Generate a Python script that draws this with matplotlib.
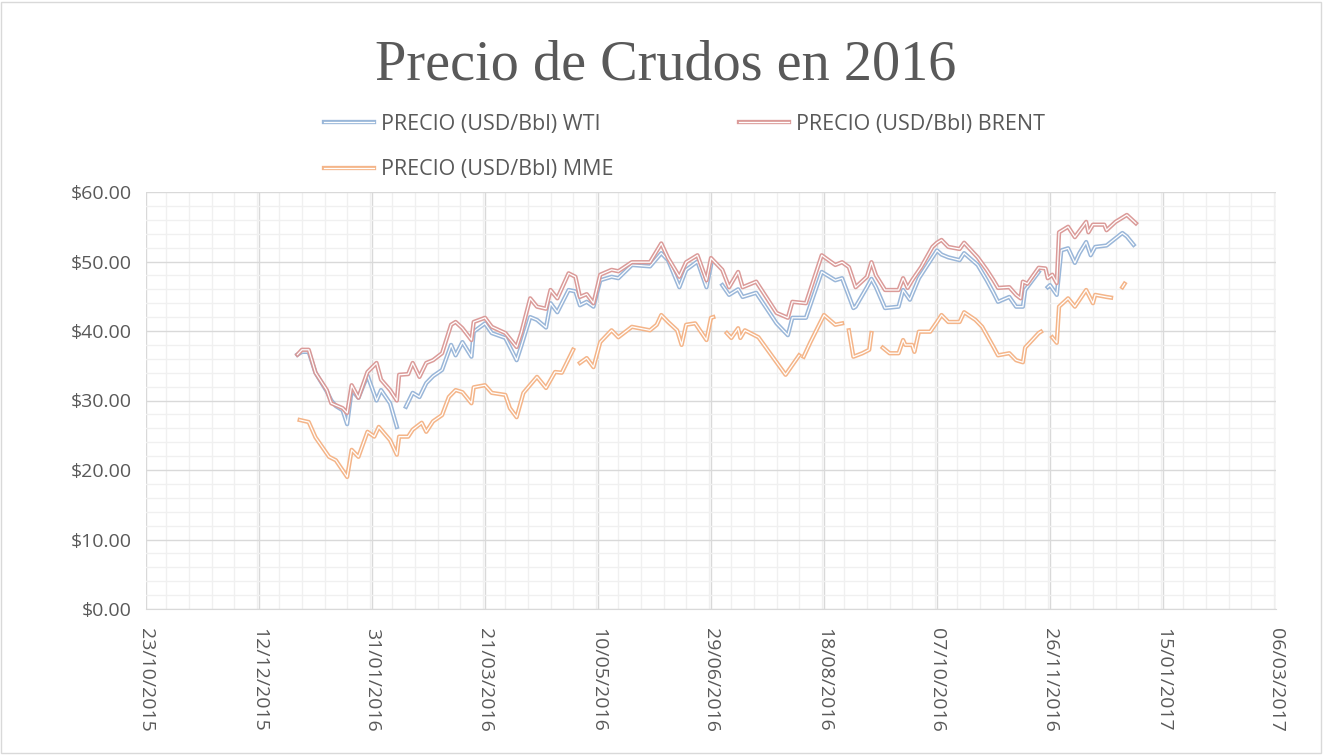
import numpy as np
import pandas as pd
import matplotlib
matplotlib.use("Agg")
import matplotlib.pyplot as plt
import matplotlib.dates as mdates
from matplotlib.ticker import FixedLocator, MultipleLocator, FuncFormatter
from matplotlib.lines import Line2D
from matplotlib.patches import Rectangle

nan = np.nan

# precios (USD/Bbl)
wti_dates = [
    "2015-12-29", "2015-12-31", "2016-01-03", "2016-01-06", "2016-01-11", "2016-01-13",
    "2016-01-15", "2016-01-18", "2016-01-20", "2016-01-22", "2016-01-25", "2016-01-29",
    "2016-02-02", "2016-02-04", "2016-02-08", "2016-02-11", "2016-02-13", "2016-02-15",
    "2016-02-18", "2016-02-21", "2016-02-24", "2016-02-27", "2016-03-02", "2016-03-06",
    "2016-03-08", "2016-03-11", "2016-03-15", "2016-03-16", "2016-03-21", "2016-03-24",
    "2016-03-30", "2016-04-04", "2016-04-06", "2016-04-10", "2016-04-13", "2016-04-17",
    "2016-04-19", "2016-04-22", "2016-04-27", "2016-04-30", "2016-05-02", "2016-05-05",
    "2016-05-08", "2016-05-11", "2016-05-16", "2016-05-19", "2016-05-25", "2016-06-02",
    "2016-06-07", "2016-06-10", "2016-06-15", "2016-06-18", "2016-06-23", "2016-06-27",
    "2016-06-29", "2016-07-02", "2016-07-04", "2016-07-07", "2016-07-11", "2016-07-13",
    "2016-07-19", "2016-07-28", "2016-08-02", "2016-08-04", "2016-08-10", "2016-08-17",
    "2016-08-23", "2016-08-26", "2016-08-31", "2016-09-01", "2016-09-06", "2016-09-08",
    "2016-09-10", "2016-09-14", "2016-09-20", "2016-09-22", "2016-09-25", "2016-09-29",
    "2016-10-05", "2016-10-07", "2016-10-09", "2016-10-12", "2016-10-17", "2016-10-19",
    "2016-10-25", "2016-10-29", "2016-11-01", "2016-11-03", "2016-11-08", "2016-11-11",
    "2016-11-14", "2016-11-15", "2016-11-21", "2016-11-23", "2016-11-25", "2016-11-26",
    "2016-11-29", "2016-12-01", "2016-12-04", "2016-12-07", "2016-12-09", "2016-12-12",
    "2016-12-14", "2016-12-16", "2016-12-21", "2016-12-28", "2016-12-30", "2017-01-02",
]
wti_vals = [
    36.6, 37.0, 37.0, 34.0, 31.3, 30.0,
    29.2, 28.6, 26.6, 31.5, 30.4, 33.6,
    30.0, 31.5, 29.6, 26.2, nan, 29.1,
    31.1, 30.5, 32.5, 33.5, 34.4, 38.0,
    36.5, 38.4, 36.3, 39.9, 41.1, 39.7,
    39.0, 35.8, 37.8, 42.0, 41.6, 40.5,
    44.0, 42.7, 45.9, 45.7, 43.7, 44.2,
    43.5, 47.3, 47.8, 47.6, 49.5, 49.3,
    51.2, 50.2, 46.3, 48.8, 50.0, 46.3,
    49.5, nan, 46.6, 45.2, 46.0, 44.9,
    45.5, 41.1, 39.4, 41.9, 41.9, 48.5,
    47.3, 47.6, 43.3, 43.5, 46.3, 47.5,
    46.3, 43.3, 43.5, 45.9, 44.5, 47.6,
    50.6, 51.6, 51.0, 50.6, 50.2, 51.2,
    49.5, 47.3, 45.5, 44.2, 44.9, 43.5,
    43.5, 45.9, 48.5, nan, 46.3, 46.6,
    45.2, 51.6, 51.9, 49.8, 51.2, 52.8,
    50.9, 52.1, 52.3, 54.1, 53.6, 52.4,
]

brent_dates = [
    "2015-12-29", "2015-12-31", "2016-01-03", "2016-01-06", "2016-01-11", "2016-01-13",
    "2016-01-18", "2016-01-20", "2016-01-22", "2016-01-25", "2016-01-29", "2016-02-02",
    "2016-02-04", "2016-02-08", "2016-02-11", "2016-02-12", "2016-02-16", "2016-02-18",
    "2016-02-21", "2016-02-24", "2016-02-27", "2016-03-02", "2016-03-06", "2016-03-08",
    "2016-03-11", "2016-03-15", "2016-03-16", "2016-03-21", "2016-03-24", "2016-03-30",
    "2016-04-04", "2016-04-06", "2016-04-10", "2016-04-13", "2016-04-17", "2016-04-19",
    "2016-04-22", "2016-04-27", "2016-04-30", "2016-05-02", "2016-05-05", "2016-05-08",
    "2016-05-11", "2016-05-16", "2016-05-19", "2016-05-25", "2016-06-02", "2016-06-07",
    "2016-06-10", "2016-06-15", "2016-06-18", "2016-06-23", "2016-06-27", "2016-06-29",
    "2016-07-04", "2016-07-07", "2016-07-11", "2016-07-13", "2016-07-19", "2016-07-28",
    "2016-08-02", "2016-08-04", "2016-08-10", "2016-08-17", "2016-08-23", "2016-08-26",
    "2016-08-29", "2016-09-01", "2016-09-06", "2016-09-08", "2016-09-10", "2016-09-14",
    "2016-09-20", "2016-09-22", "2016-09-24", "2016-09-26", "2016-09-30", "2016-10-05",
    "2016-10-07", "2016-10-09", "2016-10-12", "2016-10-17", "2016-10-19", "2016-10-25",
    "2016-10-29", "2016-11-01", "2016-11-03", "2016-11-08", "2016-11-11", "2016-11-13",
    "2016-11-14", "2016-11-16", "2016-11-21", "2016-11-24", "2016-11-25", "2016-11-27",
    "2016-11-29", "2016-11-30", "2016-12-04", "2016-12-07", "2016-12-12", "2016-12-13",
    "2016-12-15", "2016-12-20", "2016-12-21", "2016-12-25", "2016-12-30", "2017-01-03",
]
brent_vals = [
    36.6, 37.3, 37.3, 34.0, 31.5, 29.6,
    28.9, 28.2, 32.2, 30.4, 34.1, 35.4,
    33.0, 31.5, 30.0, 33.7, 33.8, 35.4,
    33.4, 35.4, 35.8, 36.8, 40.9, 41.3,
    40.4, 38.7, 41.3, 41.9, 40.6, 39.7,
    37.7, 39.7, 44.7, 43.5, 43.2, 45.9,
    44.7, 48.3, 47.8, 44.9, 45.3, 44.0,
    48.1, 48.8, 48.6, 49.9, 49.9, 52.6,
    50.5, 47.8, 49.9, 50.9, 47.3, 50.5,
    48.8, 46.3, 48.5, 46.3, 47.1, 42.6,
    41.9, 44.2, 44.0, 50.9, 49.5, 49.9,
    49.2, 46.3, 47.8, 49.9, 48.0, 45.9,
    45.9, 47.6, 46.2, 47.3, 49.2, 52.1,
    52.7, 53.1, 52.1, 51.8, 52.7, 50.6,
    48.8, 47.3, 46.2, 46.3, 45.2, 44.7,
    47.1, 46.8, 49.1, 49.0, 47.6, 48.1,
    46.9, 54.2, 55.0, 53.5, 55.7, 54.2,
    55.3, 55.3, 54.5, 55.7, 56.7, 55.5,
]

mme_dates = [
    "2015-12-30", "2016-01-03", "2016-01-06", "2016-01-12", "2016-01-15", "2016-01-20",
    "2016-01-22", "2016-01-25", "2016-01-29", "2016-02-01", "2016-02-03", "2016-02-08",
    "2016-02-11", "2016-02-12", "2016-02-16", "2016-02-18", "2016-02-22", "2016-02-24",
    "2016-02-27", "2016-03-02", "2016-03-05", "2016-03-08", "2016-03-11", "2016-03-15",
    "2016-03-16", "2016-03-21", "2016-03-24", "2016-03-30", "2016-04-01", "2016-04-04",
    "2016-04-07", "2016-04-13", "2016-04-17", "2016-04-21", "2016-04-24", "2016-04-29",
    "2016-04-30", "2016-05-02", "2016-05-05", "2016-05-08", "2016-05-11", "2016-05-16",
    "2016-05-19", "2016-05-25", "2016-06-02", "2016-06-05", "2016-06-07", "2016-06-10",
    "2016-06-14", "2016-06-16", "2016-06-18", "2016-06-22", "2016-06-27", "2016-06-29",
    "2016-06-30", "2016-07-03", "2016-07-06", "2016-07-08", "2016-07-11", "2016-07-12",
    "2016-07-14", "2016-07-20", "2016-08-01", "2016-08-07", "2016-08-08", "2016-08-09",
    "2016-08-12", "2016-08-18", "2016-08-23", "2016-08-26", "2016-08-27", "2016-08-29",
    "2016-08-31", "2016-09-04", "2016-09-07", "2016-09-08", "2016-09-10", "2016-09-13",
    "2016-09-16", "2016-09-20", "2016-09-22", "2016-09-23", "2016-09-26", "2016-09-27",
    "2016-09-29", "2016-10-04", "2016-10-07", "2016-10-09", "2016-10-12", "2016-10-17",
    "2016-10-19", "2016-10-24", "2016-10-27", "2016-11-01", "2016-11-03", "2016-11-08",
    "2016-11-11", "2016-11-14", "2016-11-15", "2016-11-21", "2016-11-22", "2016-11-24",
    "2016-11-27", "2016-11-29", "2016-11-30", "2016-12-04", "2016-12-07", "2016-12-12",
    "2016-12-15", "2016-12-16", "2016-12-21", "2016-12-23", "2016-12-25", "2016-12-28",
    "2016-12-29",
]
mme_vals = [
    27.2, 26.9, 24.7, 21.9, 21.4, 19.0,
    22.9, 21.9, 25.5, 24.8, 26.2, 24.3,
    22.2, 24.8, 24.8, 25.8, 26.8, 25.5,
    27.0, 27.9, 30.5, 31.5, 31.2, 29.6,
    31.9, 32.2, 31.1, 30.8, 28.9, 27.6,
    31.1, 33.4, 31.8, 34.1, 34.0, 37.3,
    nan, 35.4, 36.1, 34.8, 38.4, 40.1,
    39.1, 40.6, 40.1, 40.9, 42.3, 41.3,
    40.1, 38.0, 40.9, 41.1, 38.7, 41.9,
    42.0, nan, 39.7, 39.0, 40.4, 39.0,
    40.1, 39.1, 33.7, 36.5, nan, 36.3,
    38.4, 42.3, 40.9, 41.1, nan, 40.1,
    36.3, 36.8, 37.3, 39.7, nan, 37.6,
    36.8, 36.8, 38.7, 38.0, 38.0, 37.0,
    39.9, 39.9, 41.3, 42.3, 41.3, 41.3,
    42.7, 41.6, 40.6, 37.7, 36.5, 36.8,
    35.8, 35.5, 37.6, 39.7, 39.9, nan,
    39.1, 38.3, 43.5, 44.7, 43.5, 45.9,
    44.0, 45.2, 44.9, 44.8, nan, 46.3,
    46.8,
]

series = [
    ("PRECIO (USD/Bbl) WTI", wti_dates, wti_vals, "#95b3d7"),
    ("PRECIO (USD/Bbl) BRENT", brent_dates, brent_vals, "#d99694"),
    ("PRECIO (USD/Bbl) MME", mme_dates, mme_vals, "#f4b183"),
]

tick_dates = pd.date_range("2015-10-23", "2017-03-06", freq="50D")
gray_txt = "#595959"

fig = plt.figure(figsize=(13.24, 7.55), dpi=100)
ax = fig.add_axes([146 / 1324, 1 - 609 / 755, 1130 / 1324, 417 / 755])

handles = {}
for name, d, v, col in series:
    x = pd.to_datetime(d)
    ax.plot(x, v, color=col, lw=3.1, alpha=0.95, solid_joinstyle="round", zorder=3)
    ax.plot(x, v, color="white", lw=0.9, zorder=3)
    handles[name] = (Line2D([], [], color=col, lw=3.1, alpha=0.95),
                     Line2D([], [], color="white", lw=0.9))

ax.set_xlim(tick_dates[0], tick_dates[-1])
ax.set_ylim(0, 60)
ax.xaxis.set_major_locator(FixedLocator(mdates.date2num(tick_dates)))
ax.xaxis.set_minor_locator(MultipleLocator(10))
ax.xaxis.set_major_formatter(mdates.DateFormatter("%d/%m/%Y"))
ax.yaxis.set_major_locator(MultipleLocator(10))
ax.yaxis.set_minor_locator(MultipleLocator(2))
ax.yaxis.set_major_formatter(FuncFormatter(lambda y, p: f"${y:.2f}"))

ax.grid(which="major", color="#d9d9d9", lw=1.0, zorder=1)
ax.grid(which="minor", color="#f0f0f0", lw=1.0, zorder=0)
ax.set_axisbelow(True)
for s in ["top", "right", "left"]:
    ax.spines[s].set_visible(False)
ax.spines["bottom"].set_color("#d9d9d9")
ax.tick_params(which="both", length=0)
ax.tick_params(axis="y", labelsize=14, labelcolor=gray_txt, pad=10)
ax.tick_params(axis="x", labelsize=14, labelcolor=gray_txt, pad=14, labelrotation=-90)
for lab in ax.get_xticklabels() + ax.get_yticklabels():
    lab.set_fontfamily("Open Sans")

fig.text(0.503, 1 - 66 / 755, "Precio de Crudos en 2016", ha="center", va="center",
         fontsize=40.5, color=gray_txt, family="Liberation Serif")

order = ["PRECIO (USD/Bbl) WTI", "PRECIO (USD/Bbl) MME", "PRECIO (USD/Bbl) BRENT"]
leg = fig.legend([handles[n] for n in order], order, ncol=2, loc="center left",
                 bbox_to_anchor=(305 / 1324, 1 - 147 / 755), frameon=False,
                 handlelength=2.3, handletextpad=0.33, columnspacing=5.85,
                 labelspacing=1.15, prop={"family": "Open Sans", "size": 15.5})
for t in leg.get_texts():
    t.set_color(gray_txt)

fig.patches.append(Rectangle((0.001, 0.002), 0.997, 0.995, transform=fig.transFigure,
                             fill=False, edgecolor="#d9d9d9", lw=1))

fig.savefig("out.png", dpi=100)
